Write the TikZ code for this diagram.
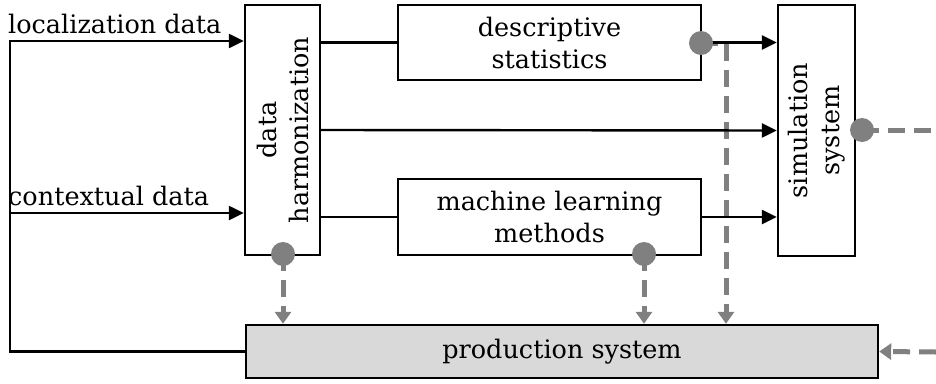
\documentclass[tikz,border=0pt]{standalone}
\usepackage{fontspec}
\setmainfont{DejaVu Serif}
\usetikzlibrary{arrows.meta}
\definecolor{flowgray}{RGB}{128,128,128}
\definecolor{prodfill}{RGB}{217,217,217}
\begin{document}
\begin{tikzpicture}[x=1pt,y=-1pt,
  font=\fontsize{25.5}{32}\selectfont,
  line width=2.4pt,
  box/.style={draw=black, fill=white, line width=2.4pt, inner sep=0pt},
  arr/.style={-{Triangle[length=15pt,width=14pt]}},
  dot/.style={circle, fill=flowgray, inner sep=0pt, minimum size=24pt},
  feedback/.style={draw=flowgray, line width=5pt, dash pattern=on 17pt off 9pt},
  fbarr/.style={feedback, -{Triangle[length=12pt,width=16pt]}},
]
\useasboundingbox (0,0) rectangle (936,383);

% processing blocks
\node[box, minimum width=75pt, minimum height=250pt] (harm) at (282.5,130) {};
\node[rotate=90, align=center] at (harm.center) {data\\harmonization};
\node[box, minimum width=303pt, minimum height=75pt, align=center] (desc) at (549.5,42.5) {descriptive\\statistics};
\node[box, minimum width=303pt, minimum height=76pt, align=center] (ml) at (549.5,217) {machine learning\\methods};
\node[box, minimum width=77pt, minimum height=251pt] (sim) at (816.5,130.5) {};
\node[rotate=90, align=center] at (sim.center) {simulation\\system};
\node[box, fill=prodfill, minimum width=632pt, minimum height=53pt] (prod) at (562,351.5) {production system};

% input data
\coordinate (loc) at (10,41);
\coordinate (ctx) at (10,213);
\node[anchor=base west, inner sep=0pt] (loctxt) at (7,33) {localization data};
\node[anchor=base west, inner sep=0pt] (ctxtxt) at (7,205) {contextual data};
\draw[arr] (prod.west) -| (loc) -- (loc -| harm.west);
\draw[arr] (ctx) -- (ctx -| harm.west);

% feedback into the production system
\coordinate (hout) at (283,254);
\coordinate (mlout) at (644,254);
\coordinate (dout) at (701,43);
\coordinate (dturn) at (726,43);
\coordinate (sout) at (862,130);
\coordinate (rin) at (936,352);
\coordinate (rout) at (936,130);
\draw[fbarr] (hout) -- (hout |- prod.north);
\draw[fbarr] (mlout) -- (mlout |- prod.north);
\draw[fbarr] (dout) -- (dturn) -- (dturn |- prod.north);
\draw[feedback] (sout) -- (rout);
\draw[fbarr] (rin) -- (prod.east);

% forward flow
\draw (harm.east |- desc) -- (desc.west);
\draw[arr] (harm.east) -- (sim.west);
\draw (harm.east |- ml) -- (ml.west);
\draw[arr] (desc.east) -- (desc.east -| sim.west);
\draw[arr] (ml.east) -- (ml.east -| sim.west);

% output ports
\node[dot] (hdot) at (hout) {};
\node[dot] (mldot) at (mlout) {};
\node[dot] (ddot) at (dout) {};
\node[dot] (sdot) at (sout) {};
\end{tikzpicture}
\end{document}
